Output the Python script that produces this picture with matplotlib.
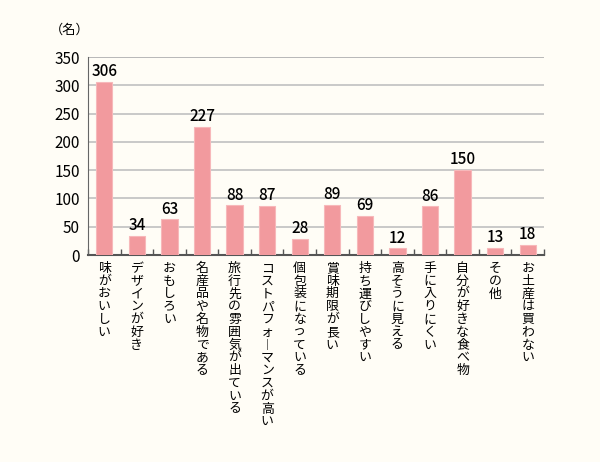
import numpy as np
import matplotlib.pyplot as plt

# 選んだ理由と人数
categories = ["味がおいしい", "デザインが好き", "おもしろい", "名産品や名物である",
              "旅行先の雰囲気が出ている", "コストパフォーマンスが高い", "個包装になっている",
              "賞味期限が長い", "持ち運びしやすい", "高そうに見える", "手に入りにくい",
              "自分が好きな食べ物", "その他", "お土産は買わない"]
values = [306, 34, 63, 227, 88, 87, 28, 89, 69, 12, 86, 150, 13, 18]
yticks = [0, 50, 100, 150, 200, 250, 300, 350]

plt.rcParams['font.family'] = ['Noto Sans CJK JP', 'DejaVu Sans']
bg = "#fffdf6"

fig = plt.figure(figsize=(6, 4.62), dpi=100, facecolor=bg)
ax = fig.add_axes([88 / 600, 1 - 255 / 462, 456 / 600, 198 / 462])
ax.set_facecolor(bg)

x = np.arange(len(values))
ax.bar(x, values, width=0.5, color="#f29a9e", edgecolor="#f7b8ba", linewidth=0.8, zorder=3)
for xi, v in zip(x, values):
    ax.text(xi, v + 3, str(v), ha="center", va="bottom", fontsize=11,
            fontweight="medium", zorder=4)

ax.set_xlim(-0.5, len(values) - 0.5)
ax.set_ylim(0, 350)
ax.set_yticks(yticks)
ax.set_yticklabels([str(t) for t in yticks], fontsize=11)
ax.yaxis.grid(True, color="#c0c0c0", linewidth=1.2, zorder=0)
ax.tick_params(axis="y", length=0, pad=6)

# 区切りの目盛り
ax.set_xticks(np.arange(len(values) + 1) - 0.5)
ax.set_xticklabels([])
ax.tick_params(axis="x", direction="in", length=4, color="#555555", width=1)

for side in ["top", "right"]:
    ax.spines[side].set_visible(False)
ax.spines["left"].set_color("#666666")
ax.spines["bottom"].set_color("#555555")
ax.spines["bottom"].set_linewidth(1.5)
ax.axhline(350, color="#888888", linewidth=1.2, zorder=1)

# 縦書きラベル
for xi, lab in zip(x, categories):
    vert = "\n".join("︱" if c == "ー" else c for c in lab)
    ax.text(xi, -12, vert, ha="center", va="top", fontsize=9.3, linespacing=0.98)

fig.text(50 / 600, 1 - 30 / 462, "（名）", fontsize=9.5, ha="left", va="center")

fig.savefig("out.png", dpi=100, facecolor=bg)
